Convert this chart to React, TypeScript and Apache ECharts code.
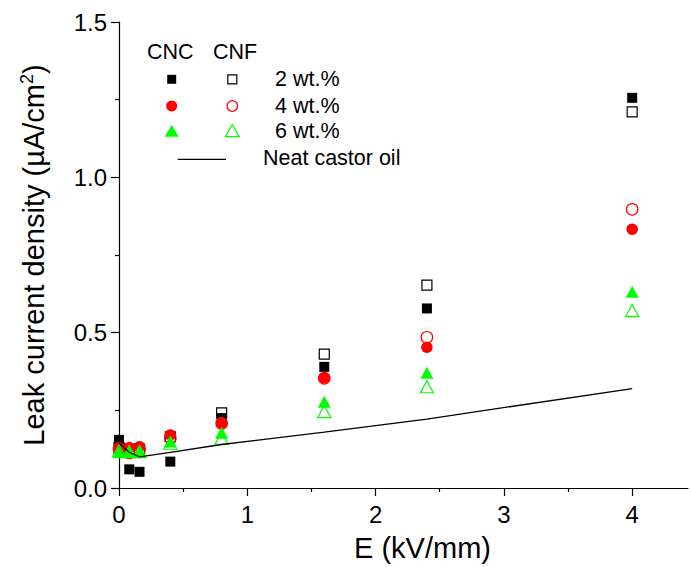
import React, { useEffect, useRef } from "react";
import * as echarts from "echarts";

const E_FIELD = [0, 0.08, 0.16, 0.4, 0.8, 1.6, 2.4, 4];
const CNC_2 = [0.155, 0.06, 0.052, 0.085, 0.225, 0.39, 0.578, 1.256];
const CNF_2 = [0.13, 0.125, 0.125, 0.165, 0.242, 0.431, 0.653, 1.211];
const CNC_4 = [0.13, 0.13, 0.133, 0.171, 0.21, 0.355, 0.453, 0.833];
const CNF_4 = [0.125, 0.113, 0.125, 0.16, 0.208, 0.353, 0.485, 0.897];
const CNC_6 = [0.115, 0.117, 0.117, 0.15, 0.178, 0.278, 0.371, 0.632];
const CNF_6 = [0.12, 0.117, 0.117, 0.144, 0.16, 0.246, 0.326, 0.571];
const NEAT = [0.145, 0.115, 0.1, 0.115, 0.14, 0.18, 0.222, 0.32];

const X_TICKS = [0, 1, 2, 3, 4];
const X_MINOR_TICKS = [0.5, 1.5, 2.5, 3.5];
const Y_TICKS = ["0.0", "0.5", "1.0", "1.5"];

const FONT = "'Liberation Sans', Arial, sans-serif";
const BLACK = "#000000";
const RED = "#ff0000";
const GREEN = "#00ff00";

const pair = (ys: number[]) => E_FIELD.map((x, i) => [x, ys[i]]);

export default function App() {
  const ref = useRef<HTMLDivElement>(null);
  useEffect(() => {
    if (!ref.current) return;
    const chart = echarts.init(ref.current, undefined, { renderer: "svg" });
    const filled = (name: string, data: number[], symbol: string, size: any, color: string) => ({
      type: "scatter",
      name,
      data: pair(data),
      symbol,
      symbolSize: size,
      itemStyle: { color, borderWidth: 0, opacity: 1 },
      z: 3,
    });
    const hollow = (name: string, data: number[], symbol: string, size: any, color: string) => ({
      type: "scatter",
      name,
      data: pair(data),
      symbol,
      symbolSize: size,
      itemStyle: { color: "rgba(0,0,0,0)", borderColor: color, borderWidth: 1.2, opacity: 1 },
      z: 3,
    });
    const txt = (text: string, x: number, y: number) => ({
      type: "text",
      x,
      y,
      style: { text, fontSize: 21.5, fontFamily: FONT, fill: "#000", verticalAlign: "middle", align: "left" },
    });
    const tri = (cx: number, cy: number) => [
      [cx - 7, cy + 6],
      [cx + 7, cy + 6],
      [cx, cy - 6],
    ];
    const XMAX = 4.435;
    chart.setOption({
      animation: false,
      backgroundColor: "#ffffff",
      grid: { left: 119, top: 22, bottom: 79, right: 3, containLabel: false },
      xAxis: [
        {
          type: "value",
          min: 0,
          max: XMAX,
          interval: 1,
          position: "bottom",
          name: "E (kV/mm)",
          nameLocation: "middle",
          nameGap: 45,
          nameTextStyle: { fontSize: 29, fontFamily: FONT, color: "#000", padding: [0, 0, 0, 38] },
          axisLine: { show: true, onZero: false, lineStyle: { color: "#000", width: 1.2 } },
          axisTick: { show: true, inside: false, length: 8, customValues: X_TICKS, lineStyle: { color: "#000", width: 1.2 } },
          minorTick: { show: false },
          splitLine: { show: false },
          minorSplitLine: { show: false },
          axisLabel: {
            fontSize: 24,
            fontFamily: FONT,
            color: "#000",
            margin: 14,
            customValues: X_TICKS,
            formatter: (v: number) => String(v),
          },
        },
        {
          type: "value",
          min: 0,
          max: XMAX,
          interval: 0.5,
          position: "bottom",
          offset: 0,
          axisLine: { show: false, onZero: false },
          axisTick: { show: true, inside: false, length: 4, customValues: X_MINOR_TICKS, lineStyle: { color: "#000", width: 1.2 } },
          axisLabel: { show: false },
          splitLine: { show: false },
        },
      ],
      yAxis: {
        type: "value",
        min: 0,
        max: 1.5,
        interval: 0.5,
        name: "Leak current density (µA/cm{sup|2})",
        nameLocation: "middle",
        nameGap: 70,
        nameRotate: 90,
        nameTextStyle: {
          fontSize: 29,
          fontFamily: FONT,
          color: "#000",
          rich: { sup: { fontSize: 18, fontFamily: FONT, color: "#000", verticalAlign: "top", lineHeight: 31 } },
        },
        axisLine: { show: true, onZero: false, lineStyle: { color: "#000", width: 1.2 } },
        axisTick: { show: true, inside: false, length: 8, lineStyle: { color: "#000", width: 1.2 } },
        minorTick: { show: true, splitNumber: 2, length: 4, lineStyle: { color: "#000", width: 1.2 } },
        splitLine: { show: false },
        minorSplitLine: { show: false },
        axisLabel: {
          fontSize: 24,
          fontFamily: FONT,
          color: "#000",
          margin: 12,
          formatter: (v: number) => {
            const s = v.toFixed(1);
            return Y_TICKS.includes(s) ? s : "";
          },
        },
      },
      series: [
        filled("CNC 2 wt.%", CNC_2, "rect", 10, BLACK),
        hollow("CNF 2 wt.%", CNF_2, "rect", 10, BLACK),
        filled("CNC 4 wt.%", CNC_4, "circle", 11.5, RED),
        hollow("CNF 4 wt.%", CNF_4, "circle", 11.5, RED),
        filled("CNC 6 wt.%", CNC_6, "triangle", [13, 12], GREEN),
        hollow("CNF 6 wt.%", CNF_6, "triangle", [13, 12], GREEN),
        {
          type: "line",
          name: "Neat castor oil",
          data: pair(NEAT),
          showSymbol: false,
          symbol: "none",
          lineStyle: { color: "#000", width: 1.3 },
          z: 4,
        },
      ],
      graphic: [
        txt("CNC", 147, 52),
        txt("CNF", 213, 52),
        { type: "rect", shape: { x: 167.2, y: 74.8, width: 9, height: 9 }, style: { fill: BLACK } },
        { type: "rect", shape: { x: 227.8, y: 74.8, width: 9, height: 9 }, style: { fill: "none", stroke: BLACK, lineWidth: 1.2 } },
        { type: "circle", shape: { cx: 171.7, cy: 106, r: 5.5 }, style: { fill: RED } },
        { type: "circle", shape: { cx: 232.3, cy: 106, r: 5.3 }, style: { fill: "none", stroke: RED, lineWidth: 1.2 } },
        { type: "polygon", shape: { points: tri(171.7, 130.7) }, style: { fill: GREEN } },
        { type: "polygon", shape: { points: tri(232.3, 130.7) }, style: { fill: "none", stroke: GREEN, lineWidth: 1.2 } },
        { type: "line", shape: { x1: 177.7, y1: 159.3, x2: 226, y2: 159.3 }, style: { stroke: "#000", lineWidth: 1.3 } },
        txt("2 wt.%", 275, 79.3),
        txt("4 wt.%", 275, 106),
        txt("6 wt.%", 275, 131),
        txt("Neat castor oil", 263, 158),
      ],
    });
    return () => chart.dispose();
  }, []);
  return (
    <div
      ref={ref}
      style={{ position: "fixed", left: 0, top: 0, width: 691, height: 567, background: "#fff" }}
    />
  );
}
